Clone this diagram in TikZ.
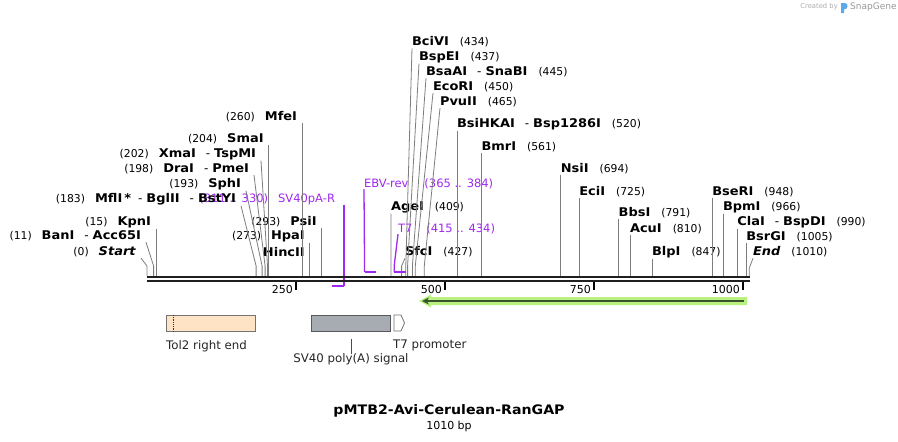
\documentclass[tikz,border=0pt]{standalone}
\usepackage{fontspec}
\setmainfont{DejaVu Sans}[BoldFeatures={FakeStretch=1.08}, BoldItalicFeatures={FakeStretch=1.08}]
\usepackage{xcolor}
\usepackage{tikz}
\usetikzlibrary{arrows, arrows.meta, positioning}

\definecolor{cutgray}{RGB}{125,125,125}
\definecolor{primerviolet}{RGB}{160,40,240}
\definecolor{peach}{RGB}{254,227,196}
\definecolor{polyagray}{RGB}{167,171,178}
\definecolor{orflight}{RGB}{185,242,128}
\definecolor{orfdark}{RGB}{60,84,46}
\definecolor{snapblue}{RGB}{90,170,235}

\newcommand{\bpnum}{\fontsize{10.8}{12}\selectfont}
\newcommand{\rsite}[2]{\textbf{#1}\hspace{11pt}{\bpnum(#2)}}
\newcommand{\lsite}[2]{{\bpnum(#2)}\hspace{10pt}\textbf{#1}}
\newcommand{\also}{\hspace{10pt}-\hspace{4pt}}

\tikzstyle{enzR} = [anchor=west, inner xsep=0pt, inner ysep=1pt, outer sep=0pt, font=\fontsize{12}{14}\selectfont]
\tikzstyle{enzL} = [anchor=east, inner xsep=0pt, inner ysep=1pt, outer xsep=5pt, outer ysep=0pt, font=\fontsize{12}{14}\selectfont]
\tikzstyle{cutline} = [draw=cutgray, line width=0.8pt]
\tikzstyle{primer} = [anchor=west, inner sep=0pt, outer sep=0pt, text=primerviolet, font=\fontsize{11.5}{13}\selectfont]
\tikzstyle{primerline} = [draw=primerviolet, line width=1.3pt]
\tikzstyle{primerbar} = [draw=primerviolet, line width=2.8pt]
\tikzstyle{bbone} = [draw=black!88, line width=2.3pt]
\tikzstyle{tickmark} = [draw=black, line width=2pt]
\tikzstyle{ticklbl} = [anchor=east, inner sep=0pt, font=\fontsize{11}{13}\selectfont]
\tikzstyle{featbox} = [rectangle, draw=black!55, line width=0.8pt, minimum height=16pt, inner sep=0pt, anchor=north west]
\tikzstyle{featlbl} = [inner sep=0pt, text=black!85, font=\fontsize{11.8}{14}\selectfont]

\begin{document}
\begin{tikzpicture}[x=1pt, y=-1pt]
\path[use as bounding box, fill=white] (0,0) rectangle (898,442);

% Cut sites on the sequence
\coordinate (p0) at (147,276);
\coordinate (p11) at (153.6,276);
\coordinate (p15) at (155.9,276);
\coordinate (p183) at (256.1,276);
\coordinate (p193) at (262.1,276);
\coordinate (p198) at (265.1,276);
\coordinate (p202) at (267.5,276);
\coordinate (p204) at (268.6,276);
\coordinate (p260) at (302.0,276);
\coordinate (p273) at (309.8,276);
\coordinate (p293) at (321.7,276);
\coordinate (p409) at (390.9,276);
\coordinate (p427) at (401.6,276);
\coordinate (p434) at (405.8,276);
\coordinate (p437) at (407.6,276);
\coordinate (p445) at (412.4,276);
\coordinate (p450) at (415.3,276);
\coordinate (p465) at (424.3,276);
\coordinate (p520) at (457.1,276);
\coordinate (p561) at (481.5,276);
\coordinate (p694) at (560.8,276);
\coordinate (p725) at (579.3,276);
\coordinate (p791) at (618.7,276);
\coordinate (p810) at (630.0,276);
\coordinate (p847) at (652.1,276);
\coordinate (p948) at (712.3,276);
\coordinate (p966) at (723.0,276);
\coordinate (p990) at (737.3,276);
\coordinate (p1005) at (746.3,276);
\coordinate (p1010) at (749.3,276);

% Primers
\node (ebvrev) [primer] at (364,184) {EBV-rev\hspace{16pt}(365 .. 384)};
\node (t7) [primer] at (398,229) {T7\hspace{14pt}(415 .. 434)};
\node (sv40r) [primer, anchor=east, outer xsep=9pt] at (344,199) {(311 .. 330)\hspace{10pt}SV40pA-R};
\coordinate (ebv5) at (364.6,272);
\coordinate (ebv3) at (375.9,272);
\coordinate (t75) at (394.3,272);
\coordinate (t73) at (405.7,272);
\coordinate (sv5) at (344,286);
\coordinate (sv3) at (332.4,286);

% Enzymes, left side
\node (start) [enzL] at (141,252) {\lsite{\textit{Start}}{0}};
\node (bani) [enzL] at (146,236) {\lsite{BanI}{11}\also\textbf{Acc65I}};
\node (kpni) [enzL] at (155.9,222) {\lsite{KpnI}{15}};
\node (mfli) [enzL] at (241,199) {\lsite{MflI\hspace{2pt}*}{183}\hspace{7pt}-\hspace{4pt}\textbf{BglII}\also\textbf{BstYI}};
\node (sphi) [enzL] at (246,184) {\lsite{SphI}{193}};
\node (drai) [enzL] at (254,169) {\lsite{DraI}{198}\also\textbf{PmeI}};
\node (xmai) [enzL] at (261,154) {\lsite{XmaI}{202}\also\textbf{TspMI}};
\node (smai) [enzL] at (268.6,139) {\lsite{SmaI}{204}};
\node (mfei) [enzL] at (302,117) {\lsite{MfeI}{260}};
\node (hpai) [enzL] at (309.8,236) {\lsite{HpaI}{273}};
\node (hincii) [enzL] at (309.8,252) {\textbf{HincII}};
\node (psii) [enzL] at (321.7,222) {\lsite{PsiI}{293}};

% Enzymes, right side
\node (agei) [enzR] at (391,207) {\rsite{AgeI}{409}};
\node (sfci) [enzR] at (405,252) {\rsite{SfcI}{427}};
\node (bcivi) [enzR] at (412,42) {\rsite{BciVI}{434}};
\node (bspei) [enzR] at (419,57) {\rsite{BspEI}{437}};
\node (bsaai) [enzR] at (426,72) {\textbf{BsaAI}\also\rsite{SnaBI}{445}};
\node (ecori) [enzR] at (433,87) {\rsite{EcoRI}{450}};
\node (pvuii) [enzR] at (440,102) {\rsite{PvuII}{465}};
\node (bsihkai) [enzR] at (457.1,124) {\textbf{BsiHKAI}\also\rsite{Bsp1286I}{520}};
\node (bmri) [enzR] at (481.5,147) {\rsite{BmrI}{561}};
\node (nsii) [enzR] at (560.8,169) {\rsite{NsiI}{694}};
\node (ecii) [enzR] at (579.3,192) {\rsite{EciI}{725}};
\node (bbsi) [enzR] at (618.7,213) {\rsite{BbsI}{791}};
\node (acui) [enzR] at (630,229) {\rsite{AcuI}{810}};
\node (blpi) [enzR] at (652.1,252) {\rsite{BlpI}{847}};
\node (bseri) [enzR] at (712.3,192) {\rsite{BseRI}{948}};
\node (bpmi) [enzR] at (723,207) {\rsite{BpmI}{966}};
\node (clai) [enzR] at (737.3,222) {\textbf{ClaI}\also\rsite{BspDI}{990}};
\node (bsrgi) [enzR] at (746.3,237) {\rsite{BsrGI}{1005}};
\node (endsite) [enzR] at (753,252) {\rsite{\textit{End}}{1010}};

% Connectors
\draw [cutline] (start.south east) -- ([yshift=10pt]p0) -- (p0);
\draw [cutline] (bani.south east) -- ([yshift=10pt]p11) -- (p11);
\draw [cutline] (kpni.south east) -- (p15);
\draw [cutline] (mfli.south east) -- ([yshift=10pt]p183) -- (p183);
\draw [cutline] (sphi.south east) -- ([yshift=10pt]p193) -- (p193);
\draw [cutline] (drai.south east) -- ([yshift=10pt]p198) -- (p198);
\draw [cutline] (xmai.south east) -- ([yshift=10pt]p202) -- (p202);
\draw [cutline] (smai.south east) -- (p204);
\draw [cutline] (mfei.south east) -- (p260);
\draw [cutline] (hpai.south east) -- (p273);
\draw [cutline] (hincii.south east) -- (p273);
\draw [cutline] (psii.south east) -- (p293);
\draw [cutline] (agei.south west) -- (p409);
\draw [cutline] (sfci.south west) -- ([yshift=10pt]p427) -- (p427);
\draw [cutline] (bcivi.south west) -- ([yshift=10pt]p434) -- (p434);
\draw [cutline] (bspei.south west) -- ([yshift=10pt]p437) -- (p437);
\draw [cutline] (bsaai.south west) -- ([yshift=10pt]p445) -- (p445);
\draw [cutline] (ecori.south west) -- ([yshift=10pt]p450) -- (p450);
\draw [cutline] (pvuii.south west) -- ([yshift=10pt]p465) -- (p465);
\draw [cutline] (bsihkai.south west) -- (p520);
\draw [cutline] (bmri.south west) -- (p561);
\draw [cutline] (nsii.south west) -- (p694);
\draw [cutline] (ecii.south west) -- (p725);
\draw [cutline] (bbsi.south west) -- (p791);
\draw [cutline] (acui.south west) -- (p810);
\draw [cutline] (blpi.south west) -- (p847);
\draw [cutline] (bseri.south west) -- (p948);
\draw [cutline] (bpmi.south west) -- (p966);
\draw [cutline] (clai.south west) -- (p990);
\draw [cutline] (bsrgi.south west) -- (p1005);
\draw [cutline] (endsite.south west) -- ([yshift=8pt]p1010) -- (p1010);

\draw [primerline] (ebvrev.south west) -- (ebv5);
\draw [primerbar] (ebv5) -- (ebv3);
\draw [primerline] (t7.south west) -- ([yshift=7pt]t75) -- (t75);
\draw [primerbar] (t75) -- (t73);
\draw [primerline] (sv40r.south east) -- (sv5);
\draw [primerbar] (sv5) -- (sv3);

% Sequence
\coordinate (seqstart) at (147,277.2);
\coordinate (seqend) at (750,277.2);
\draw [bbone] (seqstart) -- (seqend);
\draw [bbone] ([yshift=-3.6pt]seqstart) -- ([yshift=-3.6pt]seqend);

% Ruler
\draw [tickmark] (296,281.5) -- (296,289.5);
\draw [tickmark] (445,281.5) -- (445,289.5);
\draw [tickmark] (594,281.5) -- (594,289.5);
\draw [tickmark] (743,281.5) -- (743,289.5);
\node (l250) [ticklbl] at (293,289) {250};
\node (l500) [ticklbl] at (442,289) {500};
\node (l750) [ticklbl] at (591,289) {750};
\node (l1000) [ticklbl] at (740,289) {1000};

% ORF
\fill [orflight] (747,297) -- (431,297) -- (431,294.5) -- (419,301) -- (431,307.5) -- (431,305) -- (747,305) -- cycle;
\draw [orfdark, line width=2.6pt, -{Stealth[length=7pt, width=7pt]}] (744,301) -- (422,301);

% Features
\node (tol2) [featbox, fill=peach, minimum width=89pt] at (166,315) {};
\draw [black!80, densely dotted, line width=0.8pt] ([xshift=7pt]tol2.north west) -- ([xshift=7pt]tol2.south west);
\node (sv40pa) [featbox, fill=polyagray, draw=black!65, minimum width=79pt] at (311,315) {};
\draw [draw=black!55, fill=white, line width=0.8pt] (394,315) -- (401,315) -- (404.5,323) -- (401,331) -- (394,331) -- cycle;
\coordinate (t7prom) at (394,331);

\node (tol2lbl) [featlbl, below right=9pt and 0pt of tol2.south west] {Tol2 right end};
\node (t7lbl) [featlbl, below right=9pt and -1pt of t7prom] {T7 promoter};
\node (sv40lbl) [featlbl, below=22pt of sv40pa.south] {SV40 poly(A) signal};
\draw [black!70, line width=0.8pt] ([yshift=-7pt]sv40pa.south) -- (sv40lbl.north);

% Title
\node (title) [inner sep=0pt, font=\bfseries\fontsize{13.1}{16}\selectfont] at (449,411) {pMTB2-Avi-Cerulean-RanGAP};
\node (seqlen) [inner sep=0pt, below=3pt of title, font=\fontsize{11}{13}\selectfont] {1010 bp};

% Credit
\node (credit) [anchor=east, inner sep=0pt, text=black!32, font=\fontsize{6.8}{8}\selectfont] at (838,7) {Created by};
\fill [snapblue] (841,13) -- (841,3) -- (845,3) .. controls (848.5,3) and (848.5,9.5) .. (844,9.5) -- (844,13) -- cycle;
\node (snapgene) [anchor=west, inner sep=0pt, text=black!40, font=\fontsize{9}{10}\selectfont] at (850,7) {SnapGene};

\end{tikzpicture}
\end{document}
